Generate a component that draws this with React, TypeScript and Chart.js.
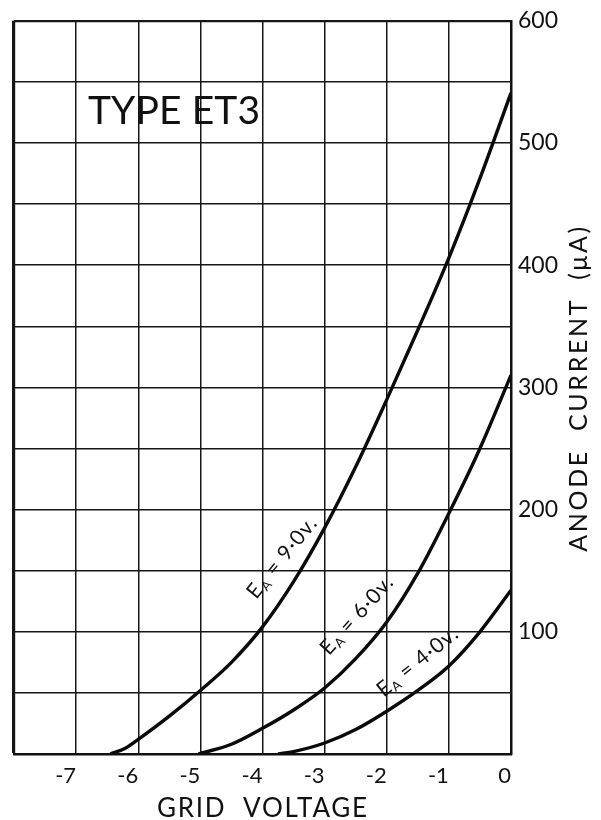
import React, { useEffect, useRef } from "react";
import { Chart, registerables } from "chart.js";

Chart.register(...registerables);

// ---- data ----
const gridVoltage9 = [-6.45, -6.2, -6, -5.5, -5, -4.5, -4, -3.5, -3, -2.5, -2, -1.5, -1, -0.5, 0];
const anodeCurrent9 = [0, 5, 12, 31, 52, 75, 104, 141, 185, 235, 290, 347, 406, 471, 541];

const gridVoltage6 = [-5.03, -4.5, -4, -3.5, -3, -2.5, -2, -1.5, -1, -0.5, 0];
const anodeCurrent6 = [0, 8, 21, 36, 54, 78, 108, 148, 197, 250, 310];

const gridVoltage4 = [-3.75, -3.5, -3, -2.5, -2, -1.5, -1, -0.5, 0];
const anodeCurrent4 = [0, 2, 9, 20, 35, 52, 72, 100, 134];

const xTickValues = [-7, -6, -5, -4, -3, -2, -1, 0];
const xTickLabels = ["-7", "-6", "-5", "-4", "-3", "-2", "-1", "0"];
const yTickValues = [100, 200, 300, 400, 500, 600];
const yTickLabels = ["100", "200", "300", "400", "500", "600"];

const seriesNames = ["9·0v.", "6·0v.", "4·0v."];
const chartTitle = "TYPE ET3";
const xTitle = "GRID  VOLTAGE";
const yTitle = "ANODE  CURRENT  (\u03bcA)";

const FONT = "Lato, 'Open Sans', sans-serif";

function toPoints(xs: number[], ys: number[]) {
  return xs.map((x, i) => ({ x, y: ys[i] }));
}

// label anchors (data coordinates) and rotations for the curve captions
const captionPlacement = [
  { x: -4.1, y: 126, angle: -51 },
  { x: -2.93, y: 80, angle: -48 },
  { x: -2.05, y: 46, angle: -39 },
];

function spacedText(ctx: CanvasRenderingContext2D, text: string, targetWidth: number) {
  (ctx as any).letterSpacing = "0px";
  const w = ctx.measureText(text).width;
  const n = Math.max(1, text.length - 1);
  (ctx as any).letterSpacing = `${Math.max(0, (targetWidth - w) / n)}px`;
}

const textPlugin = {
  id: "etTexts",
  afterDraw(chart: any) {
    const ctx = chart.ctx as CanvasRenderingContext2D;
    const xs = chart.scales.x;
    const ys = chart.scales.y;
    ctx.save();
    ctx.fillStyle = "#111";

    // title inside plot
    ctx.font = `39px ${FONT}`;
    ctx.textAlign = "left";
    ctx.textBaseline = "alphabetic";
    spacedText(ctx, chartTitle, 172);
    ctx.fillText(chartTitle, 88, 124);

    // x-axis title
    ctx.font = `26px ${FONT}`;
    ctx.textAlign = "left";
    spacedText(ctx, xTitle, 210);
    ctx.fillText(xTitle, 157, 817);

    // y-axis title, reading bottom to top
    ctx.save();
    ctx.translate(579, 388);
    ctx.rotate(-Math.PI / 2);
    ctx.font = `25px ${FONT}`;
    spacedText(ctx, yTitle, 325);
    ctx.textAlign = "center";
    ctx.textBaseline = "middle";
    ctx.fillText(yTitle, 0, 0);
    ctx.restore();

    // curve captions
    seriesNames.forEach((name, i) => {
      const p = captionPlacement[i];
      const px = xs.getPixelForValue(p.x);
      const py = ys.getPixelForValue(p.y);
      const size = 21;
      ctx.save();
      ctx.translate(px, py);
      ctx.rotate((p.angle * Math.PI) / 180);
      ctx.textAlign = "left";
      ctx.textBaseline = "alphabetic";
      (ctx as any).letterSpacing = "1px";
      ctx.font = `${size}px ${FONT}`;
      let cx = 0;
      ctx.fillText("E", cx, 0);
      cx += ctx.measureText("E").width;
      ctx.font = `${Math.round(size * 0.6)}px ${FONT}`;
      ctx.fillText("A", cx, size * 0.15);
      cx += ctx.measureText("A").width + size * 0.3;
      ctx.font = `${size}px ${FONT}`;
      ctx.fillText("= " + name, cx, 0);
      ctx.restore();
    });

    ctx.restore();
  },
};

export default function App() {
  const ref = useRef<HTMLCanvasElement | null>(null);

  useEffect(() => {
    if (!ref.current) return;
    const lineStyle = {
      borderColor: "#0a0a0a",
      borderWidth: 3.4,
      pointRadius: 0,
      fill: false,
      cubicInterpolationMode: "monotone" as const,
    };
    const chart = new Chart(ref.current, {
      type: "line",
      data: {
        datasets: [
          { label: "EA = 9·0v.", data: toPoints(gridVoltage9, anodeCurrent9), ...lineStyle },
          { label: "EA = 6·0v.", data: toPoints(gridVoltage6, anodeCurrent6), ...lineStyle },
          { label: "EA = 4·0v.", data: toPoints(gridVoltage4, anodeCurrent4), ...lineStyle },
        ],
      },
      options: {
        responsive: false,
        animation: false,
        layout: { padding: { left: 14, top: 20, right: 0, bottom: 0 } },
        plugins: {
          legend: { display: false },
          tooltip: { enabled: false },
        },
        scales: {
          x: {
            type: "linear",
            min: -8,
            max: 0,
            afterFit: (s: any) => {
              s.height = 66;
            },
            ticks: {
              stepSize: 1,
              align: "end",
              padding: 9,
              color: "#111",
              font: { family: FONT, size: 22 },
              callback: (v: any) => {
                const i = xTickValues.indexOf(Number(v));
                return i >= 0 ? xTickLabels[i] : "";
              },
            },
            grid: {
              color: "#161616",
              lineWidth: (c: any) => (c.tick && c.tick.value === -8 ? 3.2 : 1.5),
              drawTicks: false,
            },
            border: { display: true, color: "#111", width: 2.5 },
            title: { display: false, text: xTitle },
          },
          y: {
            type: "linear",
            position: "right",
            min: 0,
            max: 600,
            afterFit: (s: any) => {
              s.width = 90;
            },
            ticks: {
              stepSize: 50,
              padding: 7,
              color: "#111",
              font: { family: FONT, size: 23 },
              callback: (v: any) => {
                const i = yTickValues.indexOf(Number(v));
                return i >= 0 ? yTickLabels[i] : "";
              },
            },
            grid: {
              color: "#161616",
              lineWidth: (c: any) => (c.tick && c.tick.value === 600 ? 2.2 : 1.5),
              drawTicks: false,
            },
            border: { display: true, color: "#111", width: 2.5 },
            title: { display: false, text: yTitle },
          },
        },
      },
      plugins: [textPlugin],
    });
    return () => chart.destroy();
  }, []);

  return (
    <div style={{ position: "absolute", left: 0, top: 0, width: 601, height: 820, background: "#fff" }}>
      <canvas ref={ref} width={601} height={820} style={{ display: "block" }} />
    </div>
  );
}
